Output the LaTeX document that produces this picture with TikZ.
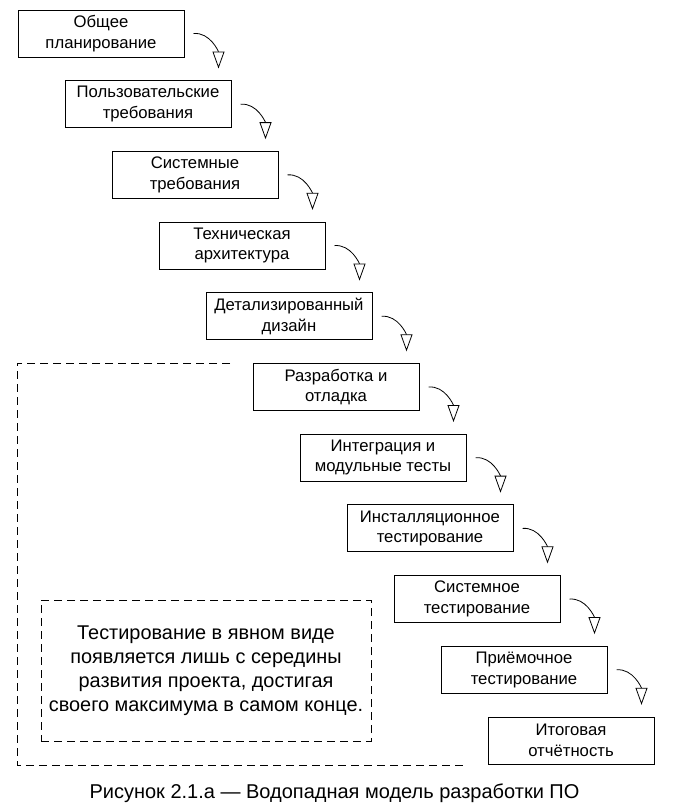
\documentclass[tikz,border=0pt]{standalone}
\usepackage{fontspec}
\setmainfont{Liberation Sans}
\usetikzlibrary{arrows.meta,calc}
\begin{document}
\begin{tikzpicture}[x=1pt,y=-1pt,
  stage/.style={draw,line width=1pt,minimum width=166pt,minimum height=47pt,inner sep=0pt,align=center,font=\fontsize{16.7}{20.5}\selectfont},
  flow/.style={line width=0.8pt,-{Triangle[open,length=17pt,width=12pt,line width=0.8pt]}},
  frame/.style={dashed,line width=0.9pt,dash pattern=on 8pt off 5pt}]
\useasboundingbox (0,0) rectangle (681,811);
\foreach \i/\t in {0/{Общее\\планирование},1/{Пользовательские\\требования},2/{Системные\\требования},3/{Техническая\\архитектура},4/{Детализированный\\дизайн},5/{Разработка и\\отладка},6/{Интеграция и\\модульные тесты},7/{Инсталляционное\\тестирование},8/{Системное\\тестирование},9/{Приёмочное\\тестирование},10/{Итоговая\\отчётность}}{
  \node[stage] (s\i) at ({101+47*\i},{33.5+70.7*\i}) {\t};
}
\foreach \i in {0,...,9}{
  \coordinate (a\i) at ($(s\i.east)+(9,0)$);
  \coordinate (b\i) at ($(s\i.east)+(34,35)$);
  \draw[flow] (a\i) to[out=5,in=90] (b\i);
}
\draw[frame] (230,363) -- (17,363) -- (17,765) -- (466,765);
\node[draw,frame,minimum width=330pt,minimum height=141pt,align=center,font=\fontsize{19.9}{24}\selectfont] (note) at (206,670.5)
 {Тестирование в явном виде\\появляется лишь с середины\\развития проекта, достигая\\своего максимума в самом конце.};
\node[font=\fontsize{20}{24}\selectfont] (cap) at (334.5,793) {Рисунок 2.1.а — Водопадная модель разработки ПО};
\end{tikzpicture}
\end{document}
